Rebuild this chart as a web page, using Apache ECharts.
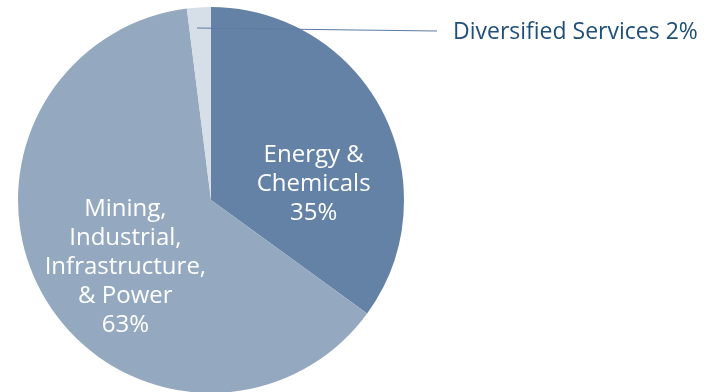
<!DOCTYPE html>
<html>
<head>
<meta charset="utf-8">
<script src="https://cdn.jsdelivr.net/npm/echarts@6/dist/echarts.min.js"></script>
<style>
html,body{margin:0;padding:0;background:#fff;}
#c{width:717px;height:392px;}
</style>
</head>
<body>
<div id="c"></div>
<script>
// Data
var categories = ['Energy & Chemicals', 'Mining, Industrial, Infrastructure, & Power', 'Diversified Services'];
var labelNames = ['Energy &\nChemicals', 'Mining,\nIndustrial,\nInfrastructure,\n& Power', 'Diversified Services'];
var values = [35, 63, 2];
var colors = ['#6482A6', '#94A9C0', '#D6DEE8'];

var FONT = '"Open Sans", sans-serif';
var insideOffsets = [[14, 29], [0, 17]];

var data = categories.map(function (name, i) {
  var item = { name: name, value: values[i], itemStyle: { color: colors[i] } };
  if (i < 2) {
    item.label = {
      show: true,
      position: 'inside',
      formatter: labelNames[i] + '\n' + values[i] + '%',
      color: '#ffffff',
      fontFamily: FONT,
      fontSize: 24,
      lineHeight: 29,
      align: 'center',
      offset: insideOffsets[i]
    };
    item.labelLine = { show: false };
  } else {
    item.label = {
      show: true,
      position: 'outside',
      formatter: labelNames[i] + ' ' + values[i] + '%',
      color: '#1F4E79',
      fontFamily: FONT,
      fontSize: 23
    };
    item.labelLine = { show: false };
  }
  return item;
});

var chart = echarts.init(document.getElementById('c'), null, { renderer: 'canvas' });
chart.setOption({
  animation: false,
  backgroundColor: '#ffffff',
  graphic: [{
    type: 'line',
    z: 100,
    silent: true,
    shape: { x1: 197, y1: 28, x2: 437, y2: 31 },
    style: { stroke: '#5B7BA5', lineWidth: 1 }
  }],
  series: [{
    type: 'pie',
    center: [211, 200],
    radius: [0, 193],
    startAngle: 90,
    clockwise: true,
    avoidLabelOverlap: false,
    itemStyle: { borderWidth: 0 },
    data: data,
    labelLayout: function (params) {
      if (params.dataIndex === 2) {
        return {
          x: 453,
          y: 32,
          align: 'left',
          verticalAlign: 'middle'
        };
      }
    }
  }]
});
</script>
</body>
</html>
